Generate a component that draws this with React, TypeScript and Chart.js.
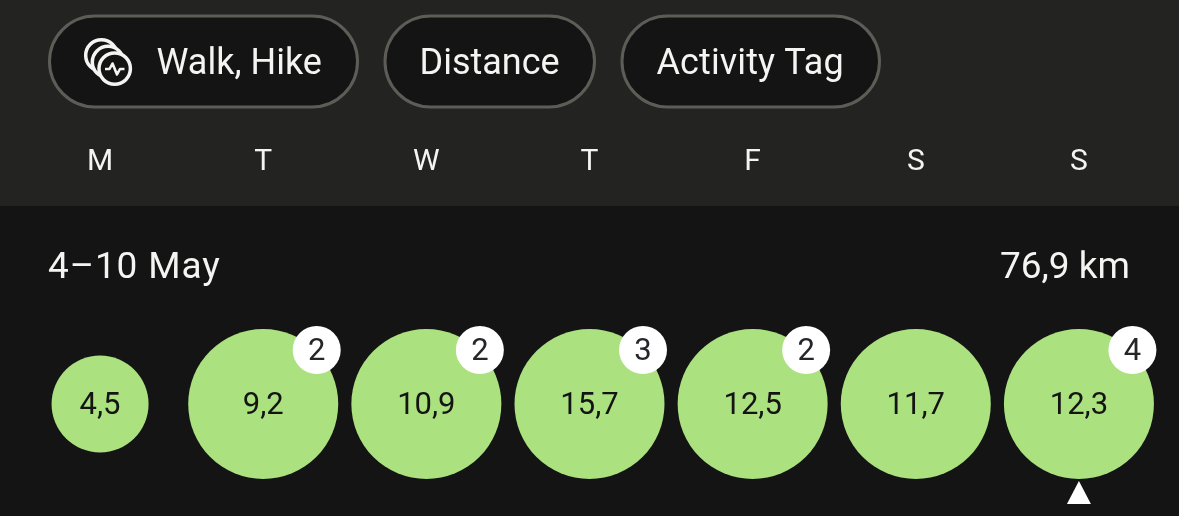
import React, { useEffect, useRef } from "react";
import { Chart, registerables } from "chart.js";

Chart.register(...registerables);

const days = ["M", "T", "W", "T", "F", "S", "S"];
const distances = [4.5, 9.2, 10.9, 15.7, 12.5, 11.7, 12.3];
const distanceLabels = ["4,5", "9,2", "10,9", "15,7", "12,5", "11,7", "12,3"];
const activityCounts = [0, 2, 2, 3, 2, 0, 4];
const filters = ["Walk, Hike", "Distance", "Activity Tag"];
const periodLabel = "4–10 May";
const totalLabel = "76,9 km";

const FONT = "Roboto, 'Open Sans', sans-serif";
const W = 1179;
const H = 516;
const TOP_BG = "#232321";
const BOTTOM_BG = "#141414";
const GREEN = "#abe17f";
const TEXT = "#f4f4f2";
const DARK = "#141414";

const pills = [
  { x: 49.5, w: 308, textX: 156.5, spacing: 0 },
  { x: 385, w: 209.5, textX: 419.5, spacing: 0 },
  { x: 622, w: 257.5, textX: 656.5, spacing: 0.1 },
];

function drawIcon(ctx: CanvasRenderingContext2D) {
  const circles: [number, number][] = [
    [101.4, 55.4],
    [108, 62],
    [114.7, 68.6],
  ];
  ctx.save();
  ctx.lineWidth = 3.5;
  ctx.strokeStyle = TEXT;
  ctx.fillStyle = DARK;
  for (const [x, y] of circles) {
    ctx.beginPath();
    ctx.arc(x, y, 15.7, 0, Math.PI * 2);
    ctx.fill();
    ctx.stroke();
  }
  ctx.lineWidth = 2.6;
  ctx.lineJoin = "round";
  ctx.beginPath();
  ctx.moveTo(105, 69);
  ctx.lineTo(109.5, 69);
  ctx.lineTo(112.5, 63.5);
  ctx.lineTo(117, 74.5);
  ctx.lineTo(120, 69);
  ctx.lineTo(124.5, 69);
  ctx.stroke();
  ctx.restore();
}

const decorations = {
  id: "decorations",
  beforeDraw(chart: Chart) {
    const ctx = chart.ctx as any;
    ctx.save();
    ctx.fillStyle = TOP_BG;
    ctx.fillRect(0, 0, W, 206);
    ctx.fillStyle = BOTTOM_BG;
    ctx.fillRect(0, 206, W, H - 206);

    ctx.textBaseline = "middle";
    ctx.textAlign = "left";
    pills.forEach((p, i) => {
      ctx.beginPath();
      ctx.roundRect(p.x, 16, p.w, 91, 45.5);
      ctx.fillStyle = DARK;
      ctx.fill();
      ctx.lineWidth = 3;
      ctx.strokeStyle = "#5e5c57";
      ctx.stroke();
      ctx.fillStyle = TEXT;
      ctx.font = `400 36px ${FONT}`;
      ctx.letterSpacing = `${p.spacing}px`;
      ctx.fillText(filters[i], p.textX, 65);
    });
    drawIcon(ctx);

    ctx.font = `400 37px ${FONT}`;
    ctx.fillStyle = TEXT;
    ctx.textAlign = "left";
    ctx.letterSpacing = "0.9px";
    ctx.fillText(periodLabel, 48, 269);
    ctx.textAlign = "right";
    ctx.letterSpacing = "0px";
    ctx.fillText(totalLabel, 1130, 269);
    ctx.restore();
  },
  afterDatasetsDraw(chart: Chart) {
    const ctx = chart.ctx;
    const points = chart.getDatasetMeta(0).data;
    ctx.save();
    ctx.textAlign = "center";
    ctx.textBaseline = "middle";
    points.forEach((pt, i) => {
      ctx.fillStyle = DARK;
      ctx.font = `400 31px ${FONT}`;
      ctx.fillText(distanceLabels[i], pt.x, pt.y + 2);
      if (activityCounts[i] > 0) {
        const bx = pt.x + 53.5;
        const by = pt.y - 54;
        ctx.beginPath();
        ctx.arc(bx, by, 24, 0, Math.PI * 2);
        ctx.fillStyle = "#ffffff";
        ctx.fill();
        ctx.fillStyle = "#26262a";
        ctx.fillText(String(activityCounts[i]), bx, by + 2);
      }
    });
    const last = points[points.length - 1];
    ctx.beginPath();
    ctx.moveTo(last.x, 481);
    ctx.lineTo(last.x + 12, 504);
    ctx.lineTo(last.x - 12, 504);
    ctx.closePath();
    ctx.fillStyle = "#ffffff";
    ctx.fill();
    ctx.restore();
  },
};

export default function App() {
  const ref = useRef<HTMLCanvasElement>(null);
  useEffect(() => {
    const chart = new Chart(ref.current!, {
      type: "bubble",
      data: {
        labels: days.map((_, i) => String(i)),
        datasets: [
          {
            data: distances.map((v, i) => ({ x: i, y: 1, v })) as any,
            backgroundColor: GREEN,
            borderWidth: 0,
            hoverBorderWidth: 0,
            clip: false,
            radius: (c: any) => Math.min(75, (c.raw?.v ?? 0) * 10.78),
          } as any,
        ],
      },
      options: {
        responsive: false,
        animation: false,
        events: [],
        layout: { autoPadding: false, padding: { left: 18.5, right: 18.5, top: 0, bottom: 0 } },
        plugins: { legend: { display: false }, tooltip: { enabled: false } },
        scales: {
          x: {
            type: "linear",
            position: "top",
            min: -0.5,
            max: 6.5,
            grid: { display: false },
            border: { display: false },
            afterBuildTicks: (axis: any) => {
              axis.ticks = days.map((_, i) => ({ value: i }));
            },
            afterFit: (axis: any) => {
              axis.height = 292;
              axis.paddingLeft = 0;
              axis.paddingRight = 0;
            },
            ticks: {
              autoSkip: false,
              maxRotation: 0,
              color: TEXT,
              padding: 104,
              font: { family: FONT, size: 30, weight: "400" },
              callback: (_v: any, i: number) => days[i],
            },
          } as any,
          y: { display: false, min: 0, max: 2 },
        },
      },
      plugins: [decorations as any],
    });
    return () => chart.destroy();
  }, []);
  return (
    <div style={{ position: "fixed", left: 0, top: 0, width: W, height: H }}>
      <canvas ref={ref} width={W} height={H} style={{ display: "block", width: W, height: H }} />
    </div>
  );
}
